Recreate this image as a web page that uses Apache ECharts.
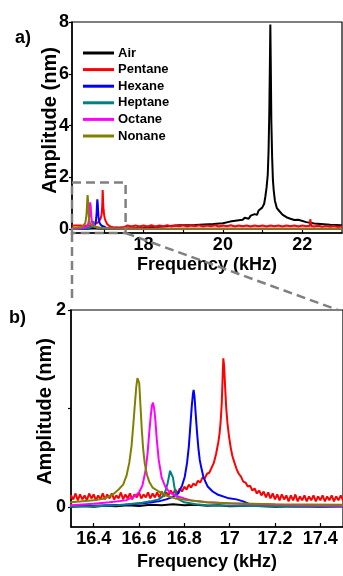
<!DOCTYPE html>
<html><head><meta charset="utf-8">
<script src="https://cdn.jsdelivr.net/npm/echarts@6/dist/echarts.min.js"></script>
<style>html,body{margin:0;padding:0;background:#fff}#c{width:343px;height:576px}</style>
</head><body><div id="c"></div>
<script>
// ---------- data ----------
const seriesNames = ['Air', 'Pentane', 'Hexane', 'Heptane', 'Octane', 'Nonane'];
const seriesColors = ['#000000', '#ff0000', '#0000ff', '#008080', '#ff00ff', '#808000'];

const air = [[16.2,0.01],[16.3,0.005],[16.35,0.012],[16.4,0.006],[16.45,0.015],[16.5,0.01],[16.55,0.02],[16.6,0.014],[16.65,0.025],[16.7,0.02],[16.75,0.03],[16.8,0.02],[16.85,0.025],[16.9,0.015],[16.95,0.02],[17.0,0.01],[17.1,0.015],[17.2,0.006],[17.3,0.01],[17.4,0.005],[17.5,0.01],[18.0,0.05],[18.5,0.1],[18.9,0.15],[19.3,0.16],[19.76,0.2],[20.0,0.23],[20.18,0.29],[20.4,0.34],[20.5,0.36],[20.55,0.44],[20.65,0.4],[20.7,0.52],[20.75,0.45],[20.8,0.58],[20.86,0.55],[20.9,0.72],[20.95,0.68],[20.99,0.83],[21.04,0.98],[21.07,1.26],[21.1,1.6],[21.13,2.1],[21.15,3.0],[21.17,4.6],[21.185,6.5],[21.195,7.9],[21.205,6.6],[21.22,4.2],[21.24,2.8],[21.26,1.9],[21.28,1.5],[21.31,1.1],[21.36,0.81],[21.42,0.7],[21.45,0.74],[21.5,0.56],[21.55,0.62],[21.6,0.46],[21.65,0.5],[21.7,0.4],[21.75,0.43],[21.8,0.35],[21.9,0.36],[21.95,0.3],[22.1,0.27],[22.3,0.22],[22.46,0.2],[22.7,0.17],[22.96,0.15],[23,0.15]];

const pentane = [[16.20,0.13],[16.21,0.07],[16.22,0.14],[16.23,0.08],[16.24,0.12],[16.25,0.06],[16.26,0.14],[16.27,0.08],[16.28,0.13],[16.29,0.07],[16.30,0.12],[16.31,0.08],[16.32,0.14],[16.33,0.07],[16.34,0.13],[16.35,0.08],[16.36,0.12],[16.37,0.07],[16.38,0.14],[16.39,0.09],[16.40,0.13],[16.41,0.07],[16.42,0.12],[16.43,0.08],[16.44,0.14],[16.45,0.08],[16.46,0.13],[16.47,0.09],[16.48,0.14],[16.49,0.08],[16.50,0.12],[16.51,0.09],[16.52,0.15],[16.53,0.08],[16.54,0.13],[16.55,0.09],[16.56,0.14],[16.57,0.08],[16.58,0.13],[16.59,0.10],[16.60,0.15],[16.61,0.09],[16.62,0.13],[16.63,0.10],[16.64,0.15],[16.65,0.09],[16.66,0.14],[16.67,0.10],[16.68,0.15],[16.69,0.10],[16.70,0.16],[16.71,0.11],[16.72,0.15],[16.73,0.12],[16.74,0.17],[16.75,0.13],[16.76,0.18],[16.77,0.14],[16.78,0.19],[16.79,0.16],[16.80,0.21],[16.81,0.18],[16.82,0.23],[16.83,0.20],[16.84,0.24],[16.85,0.22],[16.86,0.27],[16.87,0.25],[16.88,0.30],[16.89,0.29],[16.90,0.34],[16.91,0.35],[16.92,0.40],[16.93,0.45],[16.94,0.54],[16.95,0.66],[16.955,0.74],[16.96,0.86],[16.965,1.05],[16.968,1.25],[16.972,1.51],[16.976,1.42],[16.98,1.22],[16.985,1.0],[16.99,0.86],[16.997,0.72],[17.005,0.6],[17.012,0.52],[17.02,0.46],[17.03,0.39],[17.04,0.34],[17.05,0.31],[17.06,0.26],[17.07,0.25],[17.08,0.21],[17.09,0.22],[17.10,0.17],[17.11,0.19],[17.12,0.14],[17.13,0.17],[17.14,0.12],[17.15,0.16],[17.16,0.10],[17.17,0.15],[17.18,0.09],[17.19,0.14],[17.20,0.08],[17.21,0.13],[17.22,0.07],[17.23,0.13],[17.24,0.08],[17.25,0.12],[17.26,0.06],[17.27,0.12],[17.28,0.07],[17.29,0.13],[17.30,0.06],[17.31,0.11],[17.32,0.07],[17.33,0.12],[17.34,0.06],[17.35,0.11],[17.36,0.07],[17.37,0.12],[17.38,0.06],[17.39,0.11],[17.40,0.07],[17.41,0.12],[17.42,0.06],[17.43,0.11],[17.44,0.07],[17.45,0.12],[17.46,0.06],[17.47,0.11],[17.48,0.07],[17.49,0.12],[17.50,0.07],[17.6,0.14],[17.7,0.10],[17.8,0.14],[17.9,0.10],[18.0,0.14],[18.1,0.10],[18.2,0.15],[18.3,0.10],[18.4,0.14],[18.5,0.11],[18.6,0.15],[18.7,0.10],[18.8,0.14],[18.9,0.11],[19.0,0.15],[19.1,0.10],[19.2,0.14],[19.3,0.11],[19.4,0.15],[19.5,0.10],[19.6,0.14],[19.7,0.11],[19.8,0.15],[19.9,0.10],[20.0,0.14],[20.1,0.11],[20.2,0.15],[20.3,0.10],[20.4,0.14],[20.5,0.11],[20.6,0.14],[20.7,0.10],[20.8,0.14],[20.9,0.11],[21.0,0.14],[21.1,0.10],[21.2,0.14],[21.3,0.11],[21.4,0.14],[21.5,0.10],[21.6,0.14],[21.7,0.11],[21.8,0.14],[21.9,0.10],[22.0,0.14],[22.1,0.11],[22.19,0.13],[22.2,0.38],[22.22,0.38],[22.23,0.12],[22.3,0.10],[22.4,0.13],[22.5,0.09],[22.6,0.12],[22.7,0.09],[22.8,0.12],[22.9,0.08],[23.0,0.11]];

const hexane = [[16.2,0.0],[16.3,0.01],[16.4,0.015],[16.54,0.025],[16.62,0.04],[16.687,0.06],[16.72,0.08],[16.744,0.1],[16.773,0.14],[16.79,0.22],[16.802,0.31],[16.812,0.45],[16.82,0.62],[16.827,0.84],[16.833,1.03],[16.838,1.15],[16.841,1.19],[16.845,1.12],[16.85,0.95],[16.856,0.76],[16.862,0.6],[16.868,0.48],[16.874,0.41],[16.885,0.3],[16.903,0.21],[16.925,0.16],[16.946,0.13],[16.99,0.095],[17.03,0.08],[17.06,0.06],[17.09,0.03],[17.12,0.02],[17.2,0.015],[17.3,0.01],[17.5,0.01],[18,0.008],[20,0.005],[23,0.005]];

const heptane = [[16.2,0.0],[16.3,0.005],[16.4,0.01],[16.5,0.02],[16.55,0.03],[16.614,0.045],[16.65,0.06],[16.687,0.08],[16.705,0.11],[16.716,0.16],[16.725,0.23],[16.732,0.31],[16.737,0.37],[16.741,0.39],[16.745,0.37],[16.75,0.3],[16.755,0.22],[16.76,0.16],[16.767,0.11],[16.775,0.08],[16.8,0.05],[16.85,0.03],[16.9,0.02],[17.0,0.015],[17.2,0.01],[17.5,0.008],[18,0.005],[20,0.005],[23,0.005]];

const octane = [[16.2,0.01],[16.3,0.02],[16.4,0.035],[16.47,0.05],[16.542,0.07],[16.58,0.11],[16.6,0.15],[16.615,0.22],[16.628,0.36],[16.638,0.55],[16.646,0.78],[16.652,0.93],[16.657,1.03],[16.662,1.06],[16.667,1.0],[16.672,0.89],[16.678,0.7],[16.687,0.48],[16.7,0.3],[16.716,0.21],[16.735,0.15],[16.759,0.12],[16.8,0.09],[16.83,0.07],[16.9,0.05],[16.975,0.04],[17.1,0.03],[17.3,0.02],[17.5,0.015],[18,0.012],[19,0.01],[20,0.01],[21,0.01],[22,0.01],[23,0.01]];

const nonane = [[16.2,0.04],[16.3,0.05],[16.35,0.06],[16.4,0.07],[16.45,0.09],[16.485,0.13],[16.51,0.18],[16.53,0.23],[16.545,0.32],[16.557,0.45],[16.567,0.62],[16.575,0.84],[16.582,1.05],[16.588,1.22],[16.593,1.31],[16.597,1.33],[16.601,1.26],[16.606,1.05],[16.612,0.8],[16.618,0.6],[16.625,0.45],[16.635,0.33],[16.645,0.26],[16.66,0.2],[16.687,0.16],[16.72,0.12],[16.76,0.09],[16.82,0.07],[16.9,0.05],[17.0,0.04],[17.2,0.03],[17.5,0.025],[18,0.02],[19,0.015],[20,0.012],[21,0.01],[22,0.01],[23,0.01]];

const allData = [air, pentane, hexane, heptane, octane, nonane];

// axes / ticks
const topXRange = [16.2, 23];
const topYRange = [-0.15, 8];
const topXLabels = [18, 20, 22];
const topXTicks = [17, 18, 19, 20, 21, 22];
const topYLabels = [0, 2, 4, 6, 8];
const botXRange = [16.3, 17.5];
const botYRange = [-0.2, 2];
const botXLabels = [16.4, 16.6, 16.8, 17, 17.2, 17.4];
const botYLabels = [0, 2];
const botYTicks = [0, 1, 2];
const zoomBox = { x0: 16.2, x1: 17.55, y0: -0.15, y1: 1.8 };

// ---------- chart ----------
const chart = echarts.init(document.getElementById('c'), null, { renderer: 'canvas' });
const FONT = 'Liberation Sans, Arial, sans-serif';
const lbl = { color: '#000', fontFamily: FONT, fontWeight: 'bold', fontSize: 18 };

function xAxisCfg(grid, range, labels, ticks, gap, margin) {
  return {
    type: 'value', gridIndex: grid, min: range[0], max: range[1],
    name: 'Frequency (kHz)', nameLocation: 'middle', nameGap: gap, nameMoveOverlap: false,
    nameTextStyle: { color: '#000', fontFamily: FONT, fontWeight: 'bold', fontSize: 18 },
    axisLine: { show: true, onZero: false, lineStyle: { color: '#000', width: 1.5 } },
    axisTick: { show: true, inside: true, length: 4, customValues: ticks, lineStyle: { color: '#000', width: 1.2 } },
    axisLabel: Object.assign({ customValues: labels, margin: margin, formatter: v => String(+v.toFixed(1)) }, lbl),
    splitLine: { show: false }
  };
}
function yAxisCfg(grid, range, labels, ticks, gap, margin, pad) {
  return {
    type: 'value', gridIndex: grid, min: range[0], max: range[1],
    name: 'Amplitude (nm)', nameLocation: 'middle', nameGap: gap, nameMoveOverlap: false,
    nameTextStyle: { color: '#000', fontFamily: FONT, fontWeight: 'bold', fontSize: 20, padding: [0, 0, 0, pad] },
    axisLine: { show: true, onZero: false, lineStyle: { color: '#000', width: 1.5 } },
    axisTick: { show: true, inside: false, length: 3, customValues: ticks, lineStyle: { color: '#000', width: 1.2 } },
    axisLabel: Object.assign({ customValues: labels, margin: margin }, lbl),
    splitLine: { show: false }
  };
}

const series = [];
[0, 1].forEach(g => {
  allData.forEach((d, i) => {
    series.push({
      type: 'line', name: seriesNames[i], xAxisIndex: g, yAxisIndex: g,
      data: d, symbol: 'none', showSymbol: false, clip: true,
      lineStyle: { color: seriesColors[i], width: 2 },
      itemStyle: { color: seriesColors[i] },
      z: 2 + i
    });
  });
});

chart.setOption({
  animation: false,
  backgroundColor: '#fff',
  grid: [
    { left: 72, top: 22, width: 270, height: 211, show: true, borderColor: '#000', borderWidth: 1.2, backgroundColor: 'transparent' },
    { left: 71, top: 310, width: 277, height: 217, show: true, borderColor: '#000', borderWidth: 1.2, backgroundColor: 'transparent' }
  ],
  xAxis: [
    xAxisCfg(0, topXRange, topXLabels, topXTicks, 23, 3),
    xAxisCfg(1, botXRange, botXLabels, botXLabels, 26, 3)
  ],
  yAxis: [
    yAxisCfg(0, topYRange, topYLabels, topYLabels, 12, 3, 14),
    yAxisCfg(1, botYRange, botYLabels, botYTicks, 16, 5, 14)
  ],
  legend: {
    show: true, orient: 'vertical', left: 78, top: 41,
    icon: 'rect', itemWidth: 31, itemHeight: 3, itemGap: 2.6,
    data: seriesNames,
    textStyle: { color: '#000', fontFamily: FONT, fontWeight: 'bold', fontSize: 13, lineHeight: 14, padding: [0, 0, 0, -1] },
    selectedMode: false
  },
  series: series
});

const pBL = chart.convertToPixel({ xAxisIndex: 0, yAxisIndex: 0 }, [zoomBox.x0, zoomBox.y0]);
const pTR = chart.convertToPixel({ xAxisIndex: 0, yAxisIndex: 0 }, [zoomBox.x1, zoomBox.y1]);
const qTL = chart.convertToPixel({ xAxisIndex: 1, yAxisIndex: 1 }, [botXRange[0], botYRange[1]]);
const qTR = chart.convertToPixel({ xAxisIndex: 1, yAxisIndex: 1 }, [botXRange[1], botYRange[1]]);
const dashStyle = { stroke: '#808080', lineWidth: 2.5, lineDash: [9, 5], fill: null };

chart.setOption({
  graphic: [
    { type: 'rect', z: 100, shape: { x: pBL[0], y: pTR[1], width: pTR[0] - pBL[0], height: pBL[1] - pTR[1] }, style: dashStyle },
    { type: 'line', z: 100, shape: { x1: pBL[0], y1: pBL[1], x2: pBL[0], y2: qTL[1] - 8 }, style: dashStyle },
    { type: 'line', z: 100, shape: { x1: pTR[0], y1: pBL[1], x2: qTR[0] - 5, y2: qTR[1] }, style: dashStyle },
    { type: 'text', z: 100, left: 15, top: 29, style: { text: 'a)', fill: '#000', font: 'bold 18px Liberation Sans, Arial, sans-serif' } },
    { type: 'text', z: 100, left: 9, top: 309, style: { text: 'b)', fill: '#000', font: 'bold 18px Liberation Sans, Arial, sans-serif' } }
  ]
});
</script>
</body></html>
